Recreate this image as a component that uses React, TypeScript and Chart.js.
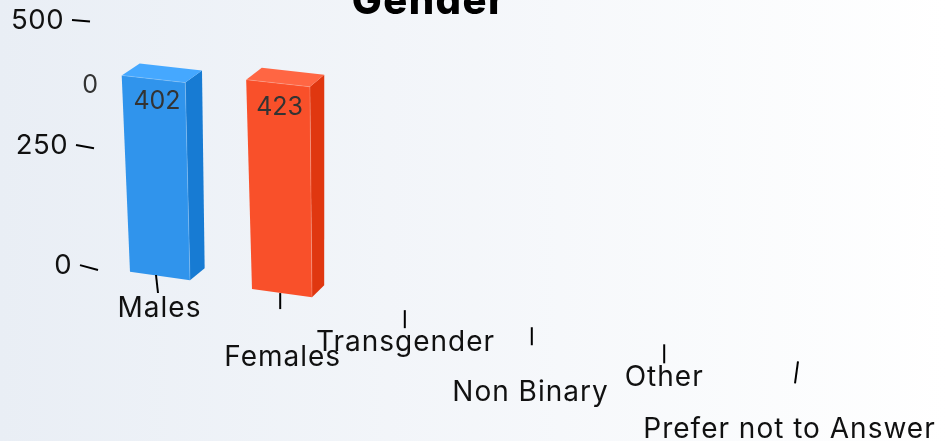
import React, { useEffect, useRef } from "react";
import { Chart, registerables } from "chart.js";

Chart.register(...registerables);

const categories = ["Males", "Females", "Transgender", "Non Binary", "Other", "Prefer not to Answer"];
const counts = [402, 423, 0, 0, 0, 0];
const frontColors = ["#3094ec", "#f9502a", "#3094ec", "#f9502a", "#3094ec", "#f9502a"];
const sideColors = ["#177bd3", "#e03710", "#177bd3", "#e03710", "#177bd3", "#e03710"];
const topColors = ["#45a8ff", "#ff6643", "#45a8ff", "#ff6643", "#45a8ff", "#ff6643"];
const valueTicks = [0, 250, 500];
const titleText = "Gender";
const strayLabel = "0";

const FONT = "Inter, 'Open Sans', sans-serif";
const STEP = 122;
const P0 = 160;
const BASE_Q = 265;

function project(p: number, q: number): [number, number] {
  const u = (p - P0) / STEP;
  const k = Math.round(u);
  const center = P0 + k * STEP;
  const lean = 0.033 - 0.014 * k - 0.0003 * (p - center);
  const h = BASE_Q - q;
  const slope = 0.14 - (0.02 * h) / 196;
  return [p - lean * h, q + 11 + slope * (p - P0)];
}
function back(pt: [number, number], q: number): [number, number] {
  const h = BASE_Q - q;
  return [pt[0] + 16 - 0.02 * (pt[0] - 122) + 0.01 * h, pt[1] - 12];
}
function poly(ctx: CanvasRenderingContext2D, pts: [number, number][], fill: string) {
  ctx.beginPath();
  pts.forEach((pt, i) => (i ? ctx.lineTo(pt[0], pt[1]) : ctx.moveTo(pt[0], pt[1])));
  ctx.closePath();
  ctx.fillStyle = fill;
  ctx.fill();
}

const scene = {
  id: "scene3d",
  beforeDraw(chart: any) {
    const { ctx, width, height } = chart;
    const g = ctx.createLinearGradient(0, 0, width, 0);
    g.addColorStop(0, "#e9eef5");
    g.addColorStop(1, "#ffffff");
    ctx.save();
    ctx.fillStyle = g;
    ctx.fillRect(0, 0, width, height);
    ctx.textBaseline = "alphabetic";
    ctx.textAlign = "center";
    ctx.fillStyle = "#000000";
    ctx.font = `800 40px ${FONT}`;
    ctx.letterSpacing = "1.4px";
    ctx.fillText(titleText, 429, 14);
    ctx.restore();
  },
  beforeDatasetDraw(chart: any, args: any) {
    const { ctx } = chart;
    const meta = chart.getDatasetMeta(args.index);
    ctx.save();
    meta.data.forEach((el: any, i: number) => {
      if (!counts[i]) return;
      const { x, y, base, width } = el.getProps(["x", "y", "base", "width"], true);
      const l = x - width / 2;
      const r = x + width / 2;
      const bl = project(l, base);
      const br = project(r, base);
      const tl = project(l, y);
      const tr = project(r, y);
      const tlb = back(tl, y);
      const trb = back(tr, y);
      const brb = back(br, base);
      poly(ctx, [tr, trb, brb, br], sideColors[i]);
      poly(ctx, [tl, tlb, trb, tr], topColors[i]);
      poly(ctx, [tl, tr, br, bl], frontColors[i]);
      ctx.beginPath();
      ctx.moveTo(tl[0], tl[1]);
      ctx.lineTo(tr[0], tr[1]);
      ctx.lineTo(br[0], br[1]);
      ctx.strokeStyle = "rgba(255,255,255,0.2)";
      ctx.lineWidth = 1;
      ctx.stroke();
    });
    ctx.restore();
    return false;
  },
  afterDatasetsDraw(chart: any) {
    const { ctx, scales } = chart;
    const meta = chart.getDatasetMeta(0);
    ctx.save();
    ctx.strokeStyle = "#000000";
    ctx.lineWidth = 2;
    ctx.textBaseline = "middle";

    // value axis
    ctx.textAlign = "right";
    ctx.fillStyle = "#111111";
    ctx.font = `400 27.5px ${FONT}`;
    ctx.letterSpacing = "0.5px";
    valueTicks.forEach((v) => {
      const q = scales.y.getPixelForValue(v);
      const h = BASE_Q - q;
      const bow = (10 * h * (245 - h)) / (245 * 245);
      const xRight = 98 - (8 * h) / 245;
      const yRight = q + 5 - (3.5 * h) / 245 + bow;
      const slope = 0.27 - (0.19 * h) / 245;
      ctx.beginPath();
      ctx.moveTo(xRight - 18, yRight - 18 * slope);
      ctx.lineTo(xRight, yRight);
      ctx.stroke();
      ctx.fillText(String(v), xRight - 26, q + 1 + bow);
    });

    // category axis
    ctx.textAlign = "center";
    const labelDx = [3.5, 2.5, 0.7, -1.3, 0, -8.5];
    const labelDy = [34, 64, 32, 65, 33, 68];
    const tickLean = [2, 0, 0, 0, 0, -3];
    const tickLen = [18, 16, 18, 18, 19, 22];
    const tickNudge = [0, 1, 0, -1, 1, 2];
    ctx.font = `400 28px ${FONT}`;
    ctx.letterSpacing = "1px";
    categories.forEach((c, i) => {
      const p = scales.x.getPixelForValue(i);
      const [, py] = project(p, BASE_Q);
      const u = (p - P0) / STEP;
      const tx = p - 4 + 1.2 * u * u + tickNudge[i];
      const ty = py - 1 + (i > 0 ? 1 : 0);
      ctx.beginPath();
      ctx.moveTo(tx, ty);
      ctx.lineTo(tx + tickLean[i], ty + tickLen[i]);
      ctx.stroke();
      ctx.fillText(c, tx + labelDx[i], ty + labelDy[i]);
    });

    // value labels
    ctx.fillStyle = "#333333";
    ctx.font = `400 25px ${FONT}`;
    ctx.letterSpacing = "0px";
    meta.data.forEach((el: any, i: number) => {
      if (!counts[i]) return;
      const [px, py] = project(el.x, el.y);
      ctx.fillText(String(counts[i]), px + 3.5 - 2 * i, py + 22 + i * 2);
    });
    ctx.textAlign = "right";
    ctx.fillText(strayLabel, 98, scales.y.getPixelForValue(counts[0]) + 17);
    ctx.restore();
  },
};

export default function App() {
  const ref = useRef<HTMLCanvasElement>(null);
  useEffect(() => {
    document.body.style.margin = "0";
    const chart = new Chart(ref.current!, {
      type: "bar",
      data: {
        labels: categories,
        datasets: [
          {
            label: titleText,
            data: counts,
            backgroundColor: frontColors,
            barPercentage: 0.492,
            categoryPercentage: 1,
          },
        ],
      },
      options: {
        animation: false,
        responsive: false,
        layout: { padding: { left: 99, right: 117, top: 20, bottom: 176 } },
        plugins: { legend: { display: false }, title: { display: false }, tooltip: { enabled: false } },
        scales: {
          x: { display: false, type: "category" },
          y: { display: false, type: "linear", min: 0, max: 500, ticks: { stepSize: 250 } },
        },
      },
      plugins: [scene],
    } as any);
    return () => chart.destroy();
  }, []);
  return <canvas ref={ref} width={948} height={441} style={{ display: "block" }} />;
}
